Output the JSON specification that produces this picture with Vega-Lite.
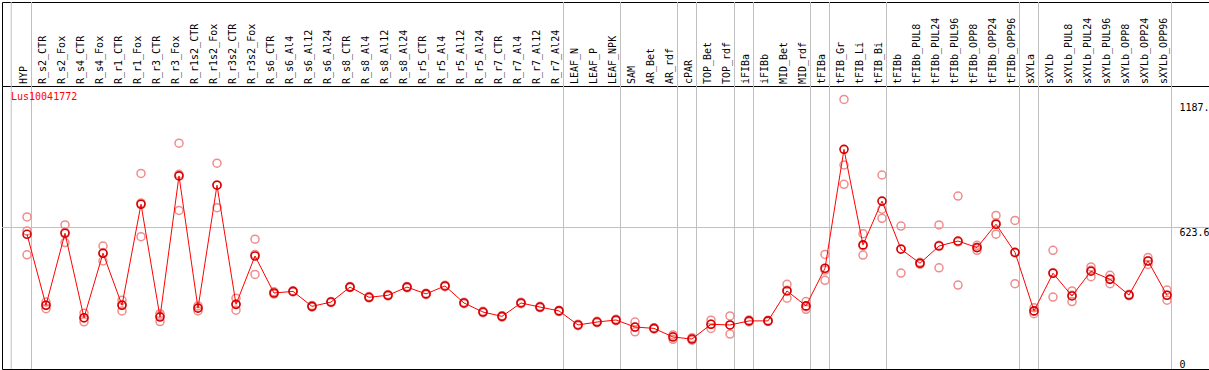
{
  "$schema": "https://vega.github.io/schema/vega-lite/v6.json",
  "padding": {"left": 1, "top": 1, "right": 1, "bottom": 1},
  "spacing": 0,
  "bounds": "flush",
  "background": "#ffffff",
  "config": {"view": {"stroke": "#000000", "strokeWidth": 1}, "font": "DejaVu Sans Mono"},
  "datasets": {
    "means": [
      {"i": 0, "name": "HYP", "v": 593.6},
      {"i": 1, "name": "R_s2_CTR", "v": 281},
      {"i": 2, "name": "R_s2_Fox", "v": 598},
      {"i": 3, "name": "R_s4_CTR", "v": 226},
      {"i": 4, "name": "R_s4_Fox", "v": 510},
      {"i": 5, "name": "R_r1_CTR", "v": 281},
      {"i": 6, "name": "R_r1_Fox", "v": 726},
      {"i": 7, "name": "R_r3_CTR", "v": 229},
      {"i": 8, "name": "R_r3_Fox", "v": 851},
      {"i": 9, "name": "R_r1s2_CTR", "v": 268},
      {"i": 10, "name": "R_r1s2_Fox", "v": 810},
      {"i": 11, "name": "R_r3s2_CTR", "v": 285},
      {"i": 12, "name": "R_r3s2_Fox", "v": 498},
      {"i": 13, "name": "R_s6_CTR", "v": 335},
      {"i": 14, "name": "R_s6_Al4", "v": 342},
      {"i": 15, "name": "R_s6_Al12", "v": 276},
      {"i": 16, "name": "R_s6_Al24", "v": 295},
      {"i": 17, "name": "R_s8_CTR", "v": 361},
      {"i": 18, "name": "R_s8_Al4", "v": 316},
      {"i": 19, "name": "R_s8_Al12", "v": 325},
      {"i": 20, "name": "R_s8_Al24", "v": 361},
      {"i": 21, "name": "R_r5_CTR", "v": 331},
      {"i": 22, "name": "R_r5_Al4", "v": 366},
      {"i": 23, "name": "R_r5_Al12", "v": 291},
      {"i": 24, "name": "R_r5_Al24", "v": 251},
      {"i": 25, "name": "R_r7_CTR", "v": 232},
      {"i": 26, "name": "R_r7_Al4", "v": 291},
      {"i": 27, "name": "R_r7_Al12", "v": 273},
      {"i": 28, "name": "R_r7_Al24", "v": 256},
      {"i": 29, "name": "LEAF_N", "v": 194},
      {"i": 30, "name": "LEAF_P", "v": 207},
      {"i": 31, "name": "LEAF_NPK", "v": 216},
      {"i": 32, "name": "SAM", "v": 185},
      {"i": 33, "name": "AR_Bet", "v": 179},
      {"i": 34, "name": "AR_rdf", "v": 141},
      {"i": 35, "name": "cPAR", "v": 132},
      {"i": 36, "name": "TOP_Bet", "v": 197},
      {"i": 37, "name": "TOP_rdf", "v": 194},
      {"i": 38, "name": "iFIBa", "v": 212},
      {"i": 39, "name": "iFIBb", "v": 212},
      {"i": 40, "name": "MID_Bet", "v": 344},
      {"i": 41, "name": "MID_rdf", "v": 278},
      {"i": 42, "name": "tFIBa", "v": 444},
      {"i": 43, "name": "tFIB_Gr", "v": 968},
      {"i": 44, "name": "tFIB_Li", "v": 547},
      {"i": 45, "name": "tFIB_Bi", "v": 740},
      {"i": 46, "name": "tFIBb", "v": 528},
      {"i": 47, "name": "tFIBb_PUL8", "v": 466},
      {"i": 48, "name": "tFIBb_PUL24", "v": 542},
      {"i": 49, "name": "tFIBb_PUL96", "v": 564},
      {"i": 50, "name": "tFIBb_OPP8", "v": 535},
      {"i": 51, "name": "tFIBb_OPP24", "v": 638},
      {"i": 52, "name": "tFIBb_OPP96", "v": 514},
      {"i": 53, "name": "sXYLa", "v": 256},
      {"i": 54, "name": "sXYLb", "v": 422},
      {"i": 55, "name": "sXYLb_PUL8", "v": 322},
      {"i": 56, "name": "sXYLb_PUL24", "v": 431},
      {"i": 57, "name": "sXYLb_PUL96", "v": 395},
      {"i": 58, "name": "sXYLb_OPP8", "v": 326},
      {"i": 59, "name": "sXYLb_OPP24", "v": 476},
      {"i": 60, "name": "sXYLb_OPP96", "v": 325}
    ],
    "reps": [
      {"i": 0, "v": 670}, {"i": 0, "v": 608}, {"i": 0, "v": 503},
      {"i": 1, "v": 295}, {"i": 1, "v": 282}, {"i": 1, "v": 266},
      {"i": 2, "v": 635}, {"i": 2, "v": 603}, {"i": 2, "v": 557},
      {"i": 3, "v": 246}, {"i": 3, "v": 224}, {"i": 3, "v": 208},
      {"i": 4, "v": 542}, {"i": 4, "v": 512}, {"i": 4, "v": 476},
      {"i": 5, "v": 303}, {"i": 5, "v": 284}, {"i": 5, "v": 256},
      {"i": 6, "v": 862}, {"i": 6, "v": 732}, {"i": 6, "v": 583},
      {"i": 7, "v": 244}, {"i": 7, "v": 235}, {"i": 7, "v": 209},
      {"i": 8, "v": 995}, {"i": 8, "v": 858}, {"i": 8, "v": 699},
      {"i": 9, "v": 278}, {"i": 9, "v": 270}, {"i": 9, "v": 256},
      {"i": 10, "v": 907}, {"i": 10, "v": 811}, {"i": 10, "v": 711},
      {"i": 11, "v": 312}, {"i": 11, "v": 285}, {"i": 11, "v": 259},
      {"i": 12, "v": 572}, {"i": 12, "v": 505}, {"i": 12, "v": 417},
      {"i": 13, "v": 340}, {"i": 13, "v": 335}, {"i": 13, "v": 330},
      {"i": 14, "v": 345}, {"i": 14, "v": 342}, {"i": 14, "v": 340},
      {"i": 15, "v": 280}, {"i": 15, "v": 276}, {"i": 15, "v": 273},
      {"i": 16, "v": 298}, {"i": 16, "v": 295}, {"i": 16, "v": 293},
      {"i": 17, "v": 364}, {"i": 17, "v": 361}, {"i": 17, "v": 359},
      {"i": 18, "v": 319}, {"i": 18, "v": 316}, {"i": 18, "v": 313},
      {"i": 19, "v": 328}, {"i": 19, "v": 325}, {"i": 19, "v": 322},
      {"i": 20, "v": 364}, {"i": 20, "v": 361}, {"i": 20, "v": 358},
      {"i": 21, "v": 334}, {"i": 21, "v": 331}, {"i": 21, "v": 328},
      {"i": 22, "v": 369}, {"i": 22, "v": 366}, {"i": 22, "v": 363},
      {"i": 23, "v": 294}, {"i": 23, "v": 291}, {"i": 23, "v": 288},
      {"i": 24, "v": 254}, {"i": 24, "v": 251}, {"i": 24, "v": 248},
      {"i": 25, "v": 235}, {"i": 25, "v": 232}, {"i": 25, "v": 229},
      {"i": 26, "v": 294}, {"i": 26, "v": 291}, {"i": 26, "v": 288},
      {"i": 27, "v": 276}, {"i": 27, "v": 273}, {"i": 27, "v": 270},
      {"i": 28, "v": 259}, {"i": 28, "v": 256}, {"i": 28, "v": 253},
      {"i": 29, "v": 197}, {"i": 29, "v": 194}, {"i": 29, "v": 191},
      {"i": 30, "v": 210}, {"i": 30, "v": 207}, {"i": 30, "v": 204},
      {"i": 31, "v": 219}, {"i": 31, "v": 216}, {"i": 31, "v": 213},
      {"i": 32, "v": 207}, {"i": 32, "v": 184}, {"i": 32, "v": 164},
      {"i": 33, "v": 182}, {"i": 33, "v": 179}, {"i": 33, "v": 176},
      {"i": 34, "v": 150}, {"i": 34, "v": 143}, {"i": 34, "v": 131},
      {"i": 35, "v": 138}, {"i": 35, "v": 132}, {"i": 35, "v": 127},
      {"i": 36, "v": 215}, {"i": 36, "v": 197}, {"i": 36, "v": 179},
      {"i": 37, "v": 234}, {"i": 37, "v": 194}, {"i": 37, "v": 154},
      {"i": 38, "v": 216}, {"i": 38, "v": 212}, {"i": 38, "v": 208},
      {"i": 39, "v": 215}, {"i": 39, "v": 212}, {"i": 39, "v": 209},
      {"i": 40, "v": 373}, {"i": 40, "v": 347}, {"i": 40, "v": 312},
      {"i": 41, "v": 297}, {"i": 41, "v": 274}, {"i": 41, "v": 263},
      {"i": 42, "v": 505}, {"i": 42, "v": 436}, {"i": 42, "v": 391},
      {"i": 43, "v": 1187.8}, {"i": 43, "v": 899}, {"i": 43, "v": 814},
      {"i": 44, "v": 596}, {"i": 44, "v": 543}, {"i": 44, "v": 502},
      {"i": 45, "v": 855}, {"i": 45, "v": 704}, {"i": 45, "v": 664},
      {"i": 46, "v": 630}, {"i": 46, "v": 530}, {"i": 46, "v": 423},
      {"i": 47, "v": 470}, {"i": 47, "v": 466}, {"i": 47, "v": 462},
      {"i": 48, "v": 635}, {"i": 48, "v": 545}, {"i": 48, "v": 446},
      {"i": 49, "v": 762}, {"i": 49, "v": 560}, {"i": 49, "v": 370},
      {"i": 50, "v": 545}, {"i": 50, "v": 536}, {"i": 50, "v": 523},
      {"i": 51, "v": 677}, {"i": 51, "v": 643}, {"i": 51, "v": 594},
      {"i": 52, "v": 655}, {"i": 52, "v": 512}, {"i": 52, "v": 376},
      {"i": 53, "v": 270}, {"i": 53, "v": 254}, {"i": 53, "v": 244},
      {"i": 54, "v": 523}, {"i": 54, "v": 425}, {"i": 54, "v": 317},
      {"i": 55, "v": 344}, {"i": 55, "v": 325}, {"i": 55, "v": 297},
      {"i": 56, "v": 450}, {"i": 56, "v": 435}, {"i": 56, "v": 407},
      {"i": 57, "v": 413}, {"i": 57, "v": 397}, {"i": 57, "v": 376},
      {"i": 58, "v": 329}, {"i": 58, "v": 326}, {"i": 58, "v": 323},
      {"i": 59, "v": 491}, {"i": 59, "v": 476}, {"i": 59, "v": 461},
      {"i": 60, "v": 348}, {"i": 60, "v": 325}, {"i": 60, "v": 303}
    ],
    "seps": [
      {"i": 0}, {"i": 28}, {"i": 31}, {"i": 34}, {"i": 35}, {"i": 37}, {"i": 38},
      {"i": 41}, {"i": 42}, {"i": 45}, {"i": 52}, {"i": 53}, {"i": 60}
    ]
  },
  "vconcat": [
    {
      "width": 1207,
      "height": 84,
      "layer": [
        {
          "data": {"name": "seps"},
          "mark": {"type": "rule", "color": "#c0c0c0", "strokeWidth": 1, "xOffset": 4.5},
          "encoding": {
            "x": {"field": "i", "type": "quantitative", "scale": {"domain": [-1.3158, 62.2105], "nice": false, "zero": false}, "axis": null}
          }
        },
        {
          "data": {"values": [{}]},
          "mark": {"type": "rule", "color": "#c0c0c0", "strokeWidth": 1},
          "encoding": {
            "x": {"datum": -0.83, "type": "quantitative", "scale": {"domain": [-1.3158, 62.2105], "nice": false, "zero": false}, "axis": null}
          }
        },
        {
          "data": {"name": "means"},
          "mark": {"type": "text", "angle": 270, "align": "left", "baseline": "alphabetic", "dx": 2, "font": "DejaVu Sans Mono", "fontSize": 10, "color": "#000000"},
          "encoding": {
            "x": {"field": "i", "type": "quantitative", "scale": {"domain": [-1.3158, 62.2105], "nice": false, "zero": false}, "axis": null},
            "y": {"datum": 0, "type": "quantitative", "scale": {"domain": [0, 1], "nice": false, "zero": false}, "axis": null},
            "text": {"field": "name", "type": "nominal"}
          }
        }
      ]
    },
    {
      "width": 1207,
      "height": 283,
      "title": {"text": "Lus10041772", "anchor": "start", "frame": "group", "orient": "top", "offset": -16, "dx": 9, "color": "#ff0000", "font": "DejaVu Sans Mono", "fontSize": 10, "fontWeight": "normal"},
      "layer": [
        {
          "data": {"name": "seps"},
          "mark": {"type": "rule", "color": "#c0c0c0", "strokeWidth": 1, "xOffset": 4.5},
          "encoding": {
            "x": {"field": "i", "type": "quantitative", "scale": {"domain": [-1.3158, 62.2105], "nice": false, "zero": false}, "axis": null}
          }
        },
        {
          "data": {"values": [{}]},
          "mark": {"type": "rule", "color": "#c0c0c0", "strokeWidth": 1},
          "encoding": {
            "x": {"datum": -0.83, "type": "quantitative", "scale": {"domain": [-1.3158, 62.2105], "nice": false, "zero": false}, "axis": null}
          }
        },
        {
          "data": {"values": [{}]},
          "mark": {"type": "rule", "color": "#c0c0c0", "strokeWidth": 1},
          "encoding": {
            "y": {"datum": 623.6, "type": "quantitative", "scale": {"domain": [0, 1247.2], "nice": false, "zero": false}}
          }
        },
        {
          "data": {"name": "reps"},
          "mark": {"type": "point", "shape": "circle", "filled": false, "stroke": "#f08c8c", "strokeWidth": 1.5, "size": 64, "opacity": 1},
          "encoding": {
            "x": {"field": "i", "type": "quantitative", "scale": {"domain": [-1.3158, 62.2105], "nice": false, "zero": false}, "axis": null},
            "y": {"field": "v", "type": "quantitative", "scale": {"domain": [0, 1247.2], "nice": false, "zero": false},
              "axis": {"orient": "right", "values": [0, 623.6, 1187.8], "grid": false, "domain": false, "ticks": false, "labelPadding": -30, "labelAlign": "left",
                "labelBaseline": {"condition": {"test": "datum.value == 0", "value": "bottom"}, "value": "top"},
                "labelOffset": {"condition": {"test": "datum.value > 1000", "value": 3}, "value": 0},
                "labelFont": "DejaVu Sans Mono", "labelFontSize": 10, "labelColor": "#000000",
                "labelExpr": "datum.value == 0 ? '0' : slice(format(datum.value, '.1f'), 0, 5)", "title": null}}
          }
        },
        {
          "data": {"name": "means"},
          "mark": {"type": "line", "color": "#ff0000", "strokeWidth": 1},
          "encoding": {
            "x": {"field": "i", "type": "quantitative", "scale": {"domain": [-1.3158, 62.2105], "nice": false, "zero": false}, "axis": null},
            "y": {"field": "v", "type": "quantitative", "scale": {"domain": [0, 1247.2], "nice": false, "zero": false},
              "axis": {"orient": "right", "values": [0, 623.6, 1187.8], "grid": false, "domain": false, "ticks": false, "labelPadding": -30, "labelAlign": "left",
                "labelBaseline": {"condition": {"test": "datum.value == 0", "value": "bottom"}, "value": "top"},
                "labelOffset": {"condition": {"test": "datum.value > 1000", "value": 3}, "value": 0},
                "labelFont": "DejaVu Sans Mono", "labelFontSize": 10, "labelColor": "#000000",
                "labelExpr": "datum.value == 0 ? '0' : slice(format(datum.value, '.1f'), 0, 5)", "title": null}}
          }
        },
        {
          "data": {"name": "means"},
          "mark": {"type": "point", "shape": "circle", "filled": false, "stroke": "#d40000", "strokeWidth": 1.6, "size": 64, "opacity": 1},
          "encoding": {
            "x": {"field": "i", "type": "quantitative", "scale": {"domain": [-1.3158, 62.2105], "nice": false, "zero": false}, "axis": null},
            "y": {"field": "v", "type": "quantitative", "scale": {"domain": [0, 1247.2], "nice": false, "zero": false},
              "axis": {"orient": "right", "values": [0, 623.6, 1187.8], "grid": false, "domain": false, "ticks": false, "labelPadding": -30, "labelAlign": "left",
                "labelBaseline": {"condition": {"test": "datum.value == 0", "value": "bottom"}, "value": "top"},
                "labelOffset": {"condition": {"test": "datum.value > 1000", "value": 3}, "value": 0},
                "labelFont": "DejaVu Sans Mono", "labelFontSize": 10, "labelColor": "#000000",
                "labelExpr": "datum.value == 0 ? '0' : slice(format(datum.value, '.1f'), 0, 5)", "title": null}}
          }
        }
      ]
    }
  ]
}
